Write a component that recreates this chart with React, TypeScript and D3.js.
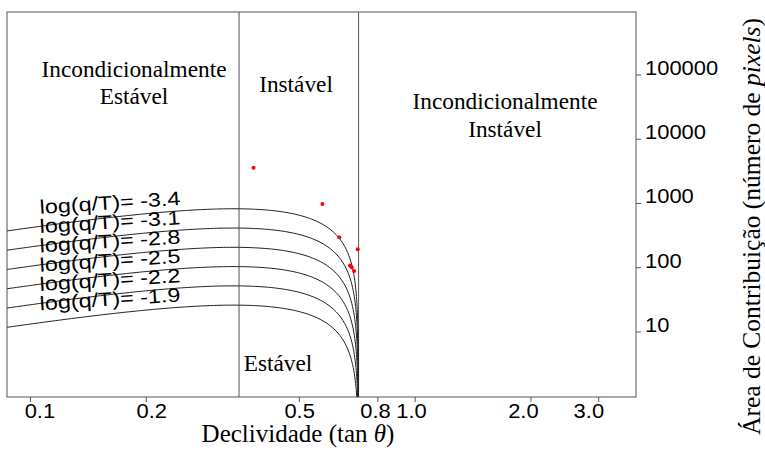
import React from "react";
import * as d3 from "d3";

// log(q/T) values of the model curves
const logQT = [-3.4, -3.1, -2.8, -2.5, -2.2, -1.9];

// axis ticks
const slopeTicks = [0.1, 0.2, 0.5, 0.8, 1.0, 2.0, 3.0];
const slopeTickLabels = ["0.1", "0.2", "0.5", "0.8", "1.0", "2.0", "3.0"];
const areaTicks = [10, 100, 1000, 10000, 100000];
const areaTickLabels = ["10", "100", "1000", "10000", "100000"];

// observed points (slope, contributing area)
const pointSlopes = [0.38, 0.574, 0.635, 0.709, 0.677, 0.684, 0.694];
const pointAreas = [3606, 982, 298, 194, 108, 102, 89];

// model parameters (SHALSTAB)
const tanPhi = 0.7127;
const tanStable = 0.3485; // tanPhi * (1 - rhoW / rhoS)
const rhoRatio = 1 / (1 - tanStable / tanPhi);

const width = 765,
  height = 450;
const left = 7,
  right = 636,
  top = 12,
  bottom = 397;

const sans = "Liberation Sans, Arimo, Arial, Helvetica, sans-serif";
const serif = "Liberation Serif, Tinos, Times New Roman, Times, serif";

function modelArea(t: number, qt: number) {
  return Math.pow(10, -qt) * Math.sin(Math.atan(t)) * rhoRatio * (1 - t / tanPhi);
}

// the tick digits in the source are a little wider than Arial
const numWidth = (s: string) => [...s].reduce((w, c) => w + (c === "." ? 6.1 : 12.2), 0);

export default function App() {
  const x = d3.scaleLog().domain([0.0869, 3.75]).range([left, right]);
  const y = d3.scaleLog().domain([0.973, 9.55e5]).range([bottom, top]);

  const xMin = x.domain()[0];
  // sample slopes: even in log up to 0.6, then closing in on tanPhi
  const slopes = d3
    .range(0, 1.0001, 0.01)
    .map((s) => xMin * Math.pow(0.6 / xMin, s))
    .concat(d3.range(Math.log10(tanPhi - 0.6), -7, -0.05).map((k) => tanPhi - Math.pow(10, k)));

  const curve = (qt: number) =>
    d3
      .line<number>()
      .x((t) => x(t))
      .y((t) => y(Math.max(modelArea(t, qt), 1e-3)))(slopes) || "";

  const labelX = 40;
  const labelSlope = x.invert(labelX);

  // x tick labels sit slightly pulled toward the middle in the source
  const tickLabelX = (t: number) => 309 + 0.966 * (x(t) - 309);

  return (
    <svg
      width={width}
      height={height}
      style={{ position: "absolute", left: 0, top: 0, background: "#fff" }}
    >
      <defs>
        <clipPath id="plot">
          <rect x={left} y={top} width={right - left} height={bottom - top} />
        </clipPath>
      </defs>

      {/* region dividers */}
      {[tanStable, tanPhi].map((t) => (
        <line key={t} x1={x(t)} x2={x(t)} y1={top} y2={bottom} stroke="#555" strokeWidth={1} />
      ))}

      {/* model curves */}
      <g clipPath="url(#plot)">
        {logQT.map((qt) => (
          <path key={qt} d={curve(qt)} fill="none" stroke="#222" strokeWidth={1} />
        ))}
      </g>

      {/* curve labels */}
      {logQT.map((qt) => {
        const ly = y(modelArea(labelSlope, qt)) - 12.5;
        return (
          <text
            key={"l" + qt}
            x={labelX}
            y={ly}
            transform={`rotate(-3.6, ${labelX}, ${ly})`}
            style={{ fontFamily: sans, fontSize: 19.5 }}
            textLength={141}
            lengthAdjust="spacingAndGlyphs"
            fill="#000"
          >
            {"log(q/T)= " + qt.toFixed(1)}
          </text>
        );
      })}

      {/* observed points */}
      {pointSlopes.map((s, i) => (
        <circle key={i} cx={x(s)} cy={y(pointAreas[i])} r={2} fill="#ff0000" />
      ))}

      {/* frame */}
      <rect
        x={left}
        y={top}
        width={right - left}
        height={bottom - top}
        fill="none"
        stroke="#555"
        strokeWidth={1}
      />

      {/* x axis */}
      {slopeTicks.map((t, i) => (
        <g key={t}>
          <line x1={x(t)} x2={x(t)} y1={bottom} y2={bottom + 5} stroke="#555" />
          <text
            x={tickLabelX(t)}
            y={418}
            textAnchor="middle"
            style={{ fontFamily: sans, fontSize: 20.5 }}
            textLength={numWidth(slopeTickLabels[i])}
            lengthAdjust="spacingAndGlyphs"
          >
            {slopeTickLabels[i]}
          </text>
        </g>
      ))}
      <text x={298} y={442} textAnchor="middle" style={{ fontFamily: serif, fontSize: 25 }}>
        Declividade (tan <tspan fontStyle="italic">θ</tspan>)
      </text>

      {/* y axis (right) */}
      {areaTicks.map((a, i) => (
        <g key={a}>
          <line x1={right} x2={right + 5} y1={y(a)} y2={y(a)} stroke="#555" />
          <text
            x={645}
            y={y(a)}
            style={{ fontFamily: sans, fontSize: 20.5 }}
            textLength={numWidth(areaTickLabels[i])}
            lengthAdjust="spacingAndGlyphs"
          >
            {areaTickLabels[i]}
          </text>
        </g>
      ))}
      <text
        transform={`translate(760, 226.5) rotate(-90)`}
        textAnchor="middle"
        style={{ fontFamily: serif, fontSize: 25.5 }}
      >
        Área de Contribuição (número de <tspan fontStyle="italic">pixels</tspan>)
      </text>

      {/* region annotations */}
      <g style={{ fontFamily: serif, fontSize: 23.3 }} textAnchor="middle">
        <text x={134} y={77}>Incondicionalmente</text>
        <text x={134} y={104}>Estável</text>
        <text x={296} y={92}>Instável</text>
        <text x={505} y={109}>Incondicionalmente</text>
        <text x={505} y={137}>Instável</text>
        <text x={278} y={371}>Estável</text>
      </g>
    </svg>
  );
}
